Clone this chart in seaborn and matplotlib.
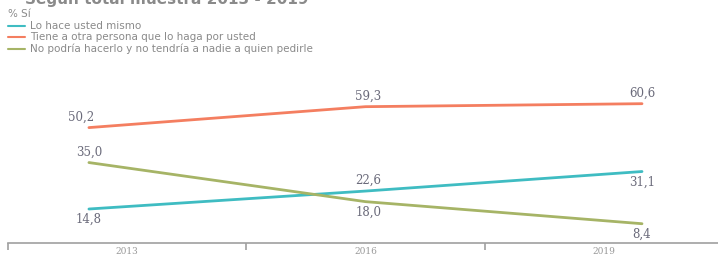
import pandas as pd
import matplotlib
matplotlib.use("Agg")
import matplotlib.pyplot as plt
import seaborn as sns

years = ["2013", "2016", "2019"]
series_names = [
    "Lo hace usted mismo",
    "Tiene a otra persona que lo haga por usted",
    "No podría hacerlo y no tendría a nadie a quien pedirle",
]
mismo = [14.8, 22.6, 31.1]
otra = [50.2, 59.3, 60.6]
nadie = [35.0, 18.0, 8.4]
colors = ["#3fbcc2", "#f47e60", "#a6b466"]

df = pd.DataFrame({
    "pos": list(range(len(years))) * 3,
    "year": years * 3,
    "serie": [series_names[0]] * 3 + [series_names[1]] * 3 + [series_names[2]] * 3,
    "valor": mismo + otra + nadie,
})

sns.set_style("white")
plt.rcParams["font.family"] = ["DejaVu Sans"]

fig = plt.figure(figsize=(7.18, 2.58), dpi=100)
ax = fig.add_axes([0.011, 0.058, 0.996, 0.713])
sns.lineplot(data=df, x="pos", y="valor", hue="serie", palette=colors,
             hue_order=series_names, linewidth=2, legend=False, ax=ax)
ax.set_xlim(-0.293, 2.293)
ax.set_ylim(0, 80)
ax.set_xlabel("")
ax.set_ylabel("")
ax.set_yticks([])
ax.set_xticks([])
for s in ["top", "right", "left"]:
    ax.spines[s].set_visible(False)
ax.spines["bottom"].set_color("#a0a0a0")
ax.spines["bottom"].set_linewidth(1.2)

# band axis for the year labels (ticks at band edges)
axb = ax.twiny()
axb.set_xlim(0, 3)
axb.xaxis.set_ticks_position("bottom")
axb.xaxis.set_label_position("bottom")
axb.set_xticks([0, 1, 2, 3])
axb.set_xticklabels([])
axb.set_xticks([0.5, 1.5, 2.5], minor=True)
axb.set_xticklabels(years, minor=True, fontsize=6.5, color="#999999", family="DejaVu Serif")
axb.tick_params(axis="x", which="major", length=5, color="#a0a0a0", width=1.2)
axb.tick_params(axis="x", which="minor", length=0, pad=3)
for s in axb.spines.values():
    s.set_visible(False)

# data labels
offsets = {
    series_names[0]: [-1, 1, -1],
    series_names[1]: [1, 1, 1],
    series_names[2]: [1, -1, -1],
}
for name, vals in zip(series_names, [mismo, otra, nadie]):
    for i, v in enumerate(vals):
        up = offsets[name][i]
        dx = -0.03 if (name == series_names[1] and i == 0) else 0.0
        ax.annotate(f"{v:.1f}".replace(".", ","), (i + dx, v),
                    xytext=(2 if i == 1 else 0, 3 * up), textcoords="offset points",
                    ha="center", va="bottom" if up > 0 else "top",
                    fontsize=8.5, color="#6a6a7a", family="DejaVu Serif")

# clipped title and legend
fig.text(0.035, 1.005, "Según total muestra 2013 - 2019", fontsize=11, fontweight="bold",
         color="#8a8a8a", va="center", ha="left")
fig.text(0.011, 0.945, "% Sí", fontsize=7.5, color="#8a8a8a", va="center")
for k, (name, c) in enumerate(zip(series_names, colors)):
    yy = 0.9 - k * 0.044
    fig.lines.append(plt.Line2D([0.011, 0.035], [yy, yy], color=c, linewidth=1.5,
                                transform=fig.transFigure))
    fig.text(0.042, yy, name, fontsize=7.5, color="#8a8a8a", va="center")

fig.savefig("out.png", dpi=100)
